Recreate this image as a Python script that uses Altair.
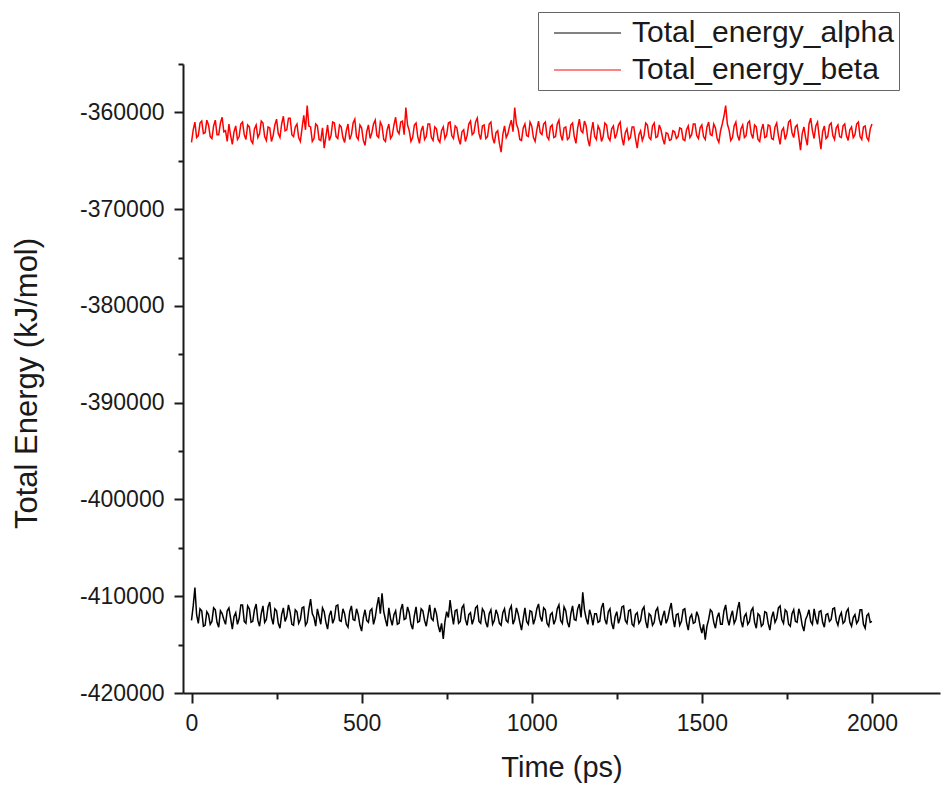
import altair as alt
import pandas as pd

time_ps = list(range(0, 2001, 5))

alpha = [
    -412500, -411000, -409100, -411900, -412800, -411300, -411500, -413100, -413000, -411600,
    -411900, -412900, -412600, -411200, -411400, -412700, -413200, -411500, -411800, -412400,
    -412900, -411500, -411200, -412300, -413400, -412100, -411700, -412900, -412300, -410900,
    -410900, -412600, -412800, -411000, -411300, -412700, -412600, -411400, -410800, -412500,
    -413100, -411800, -411000, -412700, -412400, -411100, -410600, -412200, -412900, -411300,
    -411500, -412800, -413300, -411900, -411200, -412600, -412100, -410900, -411700, -412900,
    -413000, -411400, -411600, -412800, -412400, -411200, -411100, -413000, -412700, -411300,
    -410300, -411800, -412200, -413100, -411300, -412100, -412900, -411200, -411600, -412700,
    -413400, -412000, -411500, -412800, -412300, -411000, -410900, -412500, -412600, -411300,
    -411800, -412900, -413200, -411600, -411000, -412400, -412500, -411300, -411900, -413000,
    -413600, -412200, -411400, -412500, -412700, -411500, -411300, -412900, -412200, -411000,
    -410100, -411800, -409700, -411600, -412400, -413100, -411200, -412300, -413000, -411900,
    -411500, -412900, -412800, -411400, -410800, -412400, -412300, -411100, -411700, -412900,
    -413400, -412000, -411100, -412700, -412600, -411300, -411500, -412500, -413100, -412000,
    -410900, -412300, -412500, -411200, -411800, -413000, -413700, -412800, -414400, -412600,
    -411600, -412200, -410400, -411800, -412900, -411500, -411400, -412800, -412600, -411200,
    -410900, -412400, -413000, -411900, -411700, -412900, -412300, -411200, -411000, -412600,
    -412800, -411300, -411600, -412700, -413200, -411800, -411400, -412900, -412500, -411400,
    -411900, -412800, -413000, -411700, -411300, -412500, -412700, -411400, -411000, -412900,
    -412400, -411200, -411800, -412700, -413500, -412300, -411200, -412600, -412900, -411500,
    -411600, -412900, -412300, -411300, -410800, -412100, -412600, -411200, -411400, -412800,
    -413100, -411900, -411700, -412900, -412400, -411300, -410900, -412500, -412800, -411100,
    -411500, -412700, -413200, -411800, -411000, -412400, -412500, -411300, -410800, -412200,
    -409600, -411400, -412300, -412900, -411400, -412000, -413000, -411800, -411800, -412700,
    -412600, -411200, -410700, -412400, -412900, -411600, -411300, -412800, -413400, -412100,
    -411600, -412800, -412200, -411100, -411000, -412500, -412800, -411500, -411400, -412900,
    -413100, -411900, -411700, -412800, -412500, -411400, -411100, -412600, -413300, -411800,
    -412000, -413000, -412700, -411500, -411200, -412400, -413000, -412100, -411500, -412800,
    -412300, -411400, -410700, -412200, -413200, -411900, -411800, -413000, -412600, -411400,
    -411300, -412700, -413500, -412200, -411900, -412800, -412700, -411600, -412100, -413100,
    -413800, -412900, -414500, -413100, -412400, -411400, -411600, -412700, -413300, -412200,
    -411700, -412900, -412900, -411500, -410900, -412300, -413000, -412100, -411500, -412800,
    -412400, -411300, -410600, -412500, -413200, -412100, -411800, -412900, -412600, -411500,
    -411200, -412700, -413300, -411800, -412000, -413100, -412900, -411600, -411700, -412800,
    -413500, -412200, -411600, -412700, -412300, -411200, -411000, -412400, -412800, -411400,
    -411600, -412900, -413100, -411800, -411400, -412600, -412700, -411300, -411900, -413000,
    -413600, -412400, -412000, -411400, -412600, -412900, -411300, -412300, -412900, -411600,
    -411500, -412700, -413200, -411900, -411800, -412600, -412400, -411300, -411200, -412500,
    -413000, -412100, -411700, -412800, -412600, -411600, -411300, -412700, -413100, -412200,
    -411900, -412800, -412500, -411400, -411400, -412900, -413300, -412000, -411800, -412700,
    -412600,
]

beta = [
    -363100, -361800, -361000, -362600, -362400, -361100, -360900, -362200, -362100, -360800,
    -361300, -362500, -362700, -361400, -360800, -362300, -362300, -361100, -360500, -362000,
    -361900, -363000, -361200, -362400, -363300, -362000, -361400, -362800, -362500, -361200,
    -361000, -362300, -362800, -361300, -361500, -362900, -363200, -361700, -361300, -362600,
    -362200, -360900, -361100, -362500, -362900, -361500, -361600, -363000, -362400, -361300,
    -360700, -362200, -362600, -361200, -360400, -361900, -361800, -360600, -360600, -362300,
    -362500, -361500, -361200, -362600, -363000, -361600, -360300, -361800, -359300, -361400,
    -361500, -363000, -362700, -361200, -361400, -362800, -362900, -361600, -363700, -362500,
    -361300, -362900, -362400, -361000, -361100, -362500, -362700, -361300, -361500, -362600,
    -363100, -361900, -361200, -362800, -362300, -361100, -360700, -362500, -362800, -361300,
    -361600, -362900, -363400, -362000, -361300, -362700, -362100, -361200, -360800, -362400,
    -362600, -361000, -361400, -362800, -363000, -361800, -361200, -362700, -362400, -361300,
    -360500, -361900, -362200, -361000, -360900, -362300, -359500, -361300, -361900, -363000,
    -362600, -361300, -361100, -362500, -363200, -361900, -361400, -362800, -362500, -361200,
    -361200, -362600, -362900, -361500, -361700, -362800, -363100, -361900, -361500, -362700,
    -362300, -361100, -361000, -362400, -362700, -361400, -361600, -362700, -363300, -362000,
    -361800, -363000, -362400, -361200, -360900, -362300, -362100, -361000, -360600, -362200,
    -362800, -361400, -361300, -362700, -362500, -361200, -361000, -362600, -363200, -362100,
    -361900, -363200, -364100, -362300, -361400, -362600, -362200, -361400, -360800, -362000,
    -359500, -361200, -361700, -362800, -362900, -361600, -361200, -362400, -362500, -361000,
    -361400, -362600, -363000, -361800, -360900, -362100, -362300, -361200, -361000, -362500,
    -362800, -361500, -361300, -362600, -362500, -361200, -360800, -362300, -362900, -361600,
    -361500, -362800, -362600, -361300, -361100, -362500, -363200, -361600, -360700, -361900,
    -362100, -360900, -361400, -362800, -363500, -362000, -361000, -362500, -362800, -361400,
    -361800, -363000, -362500, -361100, -361300, -362600, -362900, -361700, -361400, -362700,
    -362200, -361300, -361000, -362600, -363400, -362100, -361700, -362800, -362600, -361500,
    -361500, -362700, -363700, -362300, -361900, -362900, -362400, -361100, -361300, -362600,
    -362800, -361400, -361100, -362600, -362500, -361300, -361800, -362700, -363300, -362100,
    -362200, -362900, -362800, -361900, -362000, -362700, -362500, -361600, -361700, -362800,
    -362900, -361800, -361400, -362600, -362300, -361200, -361200, -362400, -362700, -361600,
    -361300, -362500, -362800, -361500, -361000, -362300, -362400, -361200, -361600, -362700,
    -363100, -361900, -361200, -360400, -359300, -361200, -361800, -362900, -362600, -361400,
    -361000, -362400, -362900, -361700, -361300, -362600, -362400, -361100, -360900, -362200,
    -362700, -361300, -361500, -362800, -363000, -361800, -361200, -362600, -362500, -361300,
    -361400, -362700, -362800, -361500, -361100, -362400, -363300, -361900, -361600, -362800,
    -362200, -361000, -360800, -362100, -362600, -361500, -361300, -362500, -363900, -362200,
    -361500, -362600, -363400, -361200, -360600, -361900, -362700, -361400, -361000, -362500,
    -363800, -362000, -361400, -362700, -362500, -361300, -361100, -362400, -362800, -361600,
    -361300, -362500, -362600, -361400, -361200, -362400, -362900, -361800, -361500, -362600,
    -362300, -361200, -361000, -362500, -362800, -361500, -361400, -362600, -362900, -361700,
    -361200,
]

series_names = ["Total_energy_alpha", "Total_energy_beta"]
series_colors = ["#000000", "#ff0000"]

x_tick_values = [0, 250, 500, 750, 1000, 1250, 1500, 1750, 2000]
y_tick_values = [-420000, -415000, -410000, -405000, -400000, -395000, -390000,
                 -385000, -380000, -375000, -370000, -365000, -360000, -355000]

df = pd.DataFrame({
    "time": time_ps + time_ps,
    "energy": alpha + beta,
    "series": [series_names[0]] * len(alpha) + [series_names[1]] * len(beta),
})

FONT = "Liberation Sans"
INK = "#1a1a1a"

x_axis = alt.Axis(
    values=x_tick_values,
    labelExpr="datum.value % 500 === 0 ? '' + datum.value : ''",
    tickSize={"condition": {"test": "datum.value % 500 === 0", "value": 10}, "value": 6},
    tickWidth=2, tickColor=INK, domainWidth=2, domainColor=INK,
    labelFont=FONT, labelFontSize=23, labelColor=INK, labelPadding=9,
    labelOverlap=False, labelFlush=False,
    titleFont=FONT, titleFontSize=29, titleFontWeight="normal", titleColor=INK,
    titlePadding=18, grid=False,
)

y_axis = alt.Axis(
    values=y_tick_values,
    labelExpr="datum.value % 10000 === 0 ? '' + datum.value : ''",
    tickSize={"condition": {"test": "datum.value % 10000 === 0", "value": 9}, "value": 5},
    tickWidth=2, tickColor=INK, domainWidth=2, domainColor=INK,
    labelFont=FONT, labelFontSize=23, labelColor=INK, labelPadding=10,
    labelOverlap=False, labelFlush=False,
    titleFont=FONT, titleFontSize=31, titleFontWeight="normal", titleColor=INK,
    titlePadding=36, titleY=319, grid=False,
)

chart = alt.Chart(df).mark_line(strokeWidth=1.5).encode(
    x=alt.X("time:Q", title="Time (ps)",
            scale=alt.Scale(domain=[-25, 2200], nice=False, zero=False), axis=x_axis),
    y=alt.Y("energy:Q", title="Total Energy (kJ/mol)",
            scale=alt.Scale(domain=[-420000, -355000], nice=False, zero=False), axis=y_axis),
    color=alt.Color("series:N",
                    scale=alt.Scale(domain=series_names, range=series_colors),
                    legend=alt.Legend(
                        orient="none", legendX=355, legendY=-52, title=None,
                        symbolType="M-0.333,0H4.133", symbolSize=900,
                        symbolStrokeWidth=1.5, symbolOpacity=0.65,
                        labelFont=FONT, labelFontSize=30, labelColor=INK,
                        labelLimit=500, labelOffset=57, rowPadding=6, padding=5,
                        strokeColor="#666666", fillColor="white",
                    )),
    detail="series:N",
).properties(
    width=757, height=629,
    autosize=alt.AutoSizeParams(type="none"),
    padding={"left": 183, "top": 64, "right": 11, "bottom": 98},
    background="white",
).configure_view(stroke=None)

chart.save("out.html", embed_options={"renderer": "svg", "actions": False})
